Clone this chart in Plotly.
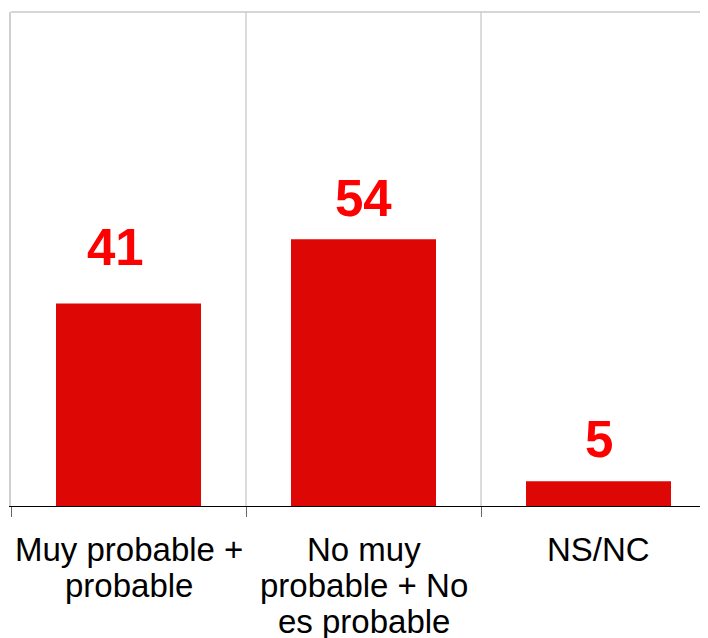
import plotly.graph_objects as go

# survey answers (%)
categories = ["Muy probable + probable", "No muy probable + No es probable", "NS/NC"]
label_lines = [
    ["Muy probable +", "probable"],
    ["No muy", "probable + No", "es probable"],
    ["NS/NC"],
]
values = [41, 54, 5]
label_gap = [25, 10, 11]    # px between bar top and value label
label_nudge = [-13, 0, 0]   # px sideways, first label sits off-centre in the original

bar_color = "#DD0806"
font_family = "Arial, Liberation Sans, sans-serif"

fig = go.Figure()
fig.add_trace(go.Bar(
    x=categories,
    y=values,
    width=0.617,
    marker=dict(color=bar_color, line=dict(width=0)),
    hoverinfo="skip",
))

# value labels above bars
for cat, val, gap, nudge in zip(categories, values, label_gap, label_nudge):
    fig.add_annotation(
        x=cat, y=val, xref="x", yref="y",
        text=str(val), showarrow=False,
        yanchor="bottom", yshift=gap, xshift=nudge,
        font=dict(family=font_family, size=51, color="#FF0000", weight="bold"),
    )

# category labels, one annotation per line for tight line spacing
for cat, lines in zip(categories, label_lines):
    for i, line in enumerate(lines):
        fig.add_annotation(
            x=cat, y=0, xref="x", yref="y",
            text=line, showarrow=False,
            yanchor="middle", yshift=-(43 + i * 36),
            font=dict(family=font_family, size=33, color="#000000"),
        )

# page body adds 8px offset, so the plot runs past the right window edge
fig.update_layout(
    width=708, height=638,
    margin=dict(l=3, r=0, t=4, b=140),
    paper_bgcolor="white",
    plot_bgcolor="white",
    showlegend=False,
    shapes=[dict(type="line", xref="paper", yref="paper",
                 x0=0, x1=1, y0=1, y1=1,
                 line=dict(color="#c8c8c8", width=1.5))],
)
fig.update_xaxes(
    type="category",
    range=[-0.5, 2.5],
    tickson="boundaries",
    showgrid=True, gridcolor="#dcdcdc", gridwidth=1.5,
    showline=True, linecolor="#000000", linewidth=1,
    ticks="outside", ticklen=10, tickcolor="#666666", tickwidth=1,
    showticklabels=False,
)
fig.update_yaxes(
    range=[0, 100],
    showgrid=False,
    showline=True, linecolor="#d0d0d0", linewidth=1.5,
    zeroline=False,
    showticklabels=False,
)

fig.write_html("out.html")
